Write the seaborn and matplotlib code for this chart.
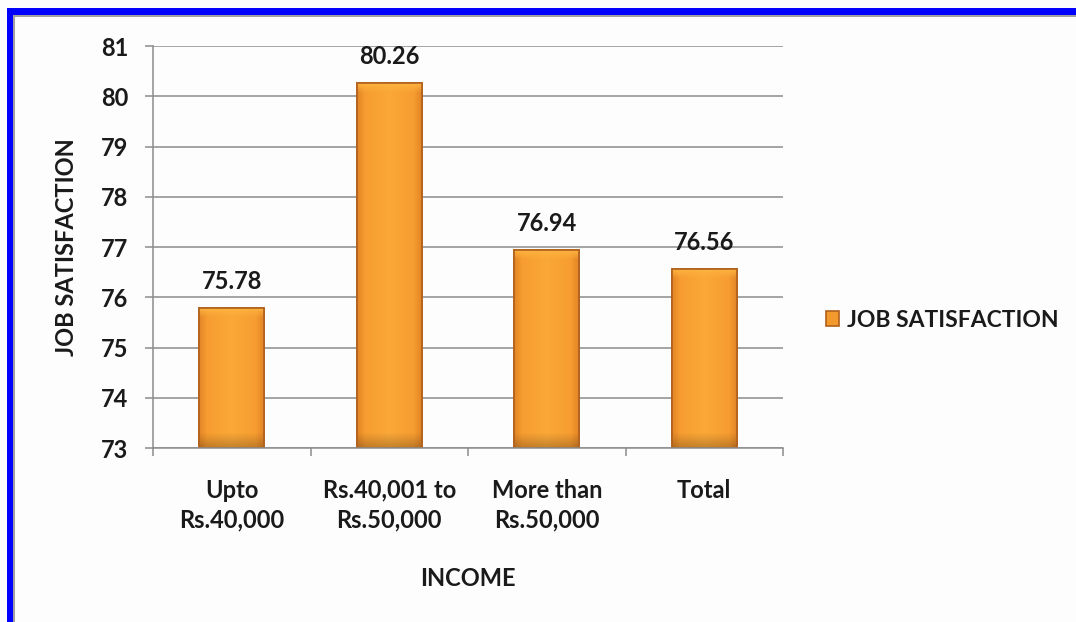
import matplotlib
matplotlib.use("Agg")
import matplotlib.pyplot as plt
from matplotlib.patches import Rectangle
import numpy as np
import seaborn as sns
import pandas as pd

categories = ["Upto\nRs.40,000", "Rs.40,001 to\nRs.50,000", "More than\nRs.50,000", "Total"]
job_satisfaction = [75.78, 80.26, 76.94, 76.56]
y_ticks = [73, 74, 75, 76, 77, 78, 79, 80, 81]

sns.set_theme(style="white")
plt.rcParams["font.family"] = ["Lato", "DejaVu Sans"]
plt.rcParams["font.weight"] = "bold"

FS = 17
TXT = "#1a1a1a"
GRID = "#8c8c8c"
Y_MIN, Y_MAX = y_ticks[0], y_ticks[-1]

df = pd.DataFrame({"INCOME": categories, "JOB SATISFACTION": job_satisfaction})

fig = plt.figure(figsize=(10.76, 6.22), dpi=100, facecolor="#fdfdfd")
ax = fig.add_axes([0.1422, 0.2797, 0.7277 - 0.1422, 0.926 - 0.2797])
ax.set_facecolor("#fdfdfd")

# blue frame along the top and left edges
fig.patches.append(Rectangle((0.0065, 0.0), 0.0056, 0.987, transform=fig.transFigure,
                             facecolor="#0000ff", edgecolor="none", zorder=10))
fig.patches.append(Rectangle((0.0065, 0.976), 0.994, 0.011, transform=fig.transFigure,
                             facecolor="#0000ff", edgecolor="none", zorder=10))
fig.patches.append(Rectangle((0.0121, 0.0), 0.0018, 0.976, transform=fig.transFigure,
                             facecolor="#a0a0a0", edgecolor="none", zorder=10))
fig.patches.append(Rectangle((0.0121, 0.9725), 0.988, 0.0035, transform=fig.transFigure,
                             facecolor="#a0a0a0", edgecolor="none", zorder=10))

sns.barplot(data=df, x="INCOME", y="JOB SATISFACTION", ax=ax, width=0.41,
            color="#f39a2e", edgecolor="#b0601c", linewidth=1.2,
            label="JOB SATISFACTION", zorder=3, saturation=1)

ax.set_xlim(-0.5, len(categories) - 0.5)
ax.set_ylim(Y_MIN, Y_MAX)

# bevelled orange shading over the visible part of each bar
light = np.array([0.99, 0.70, 0.25])
mid = np.array([0.965, 0.60, 0.18])
dark = np.array([0.80, 0.44, 0.12])
for bar in list(ax.patches):
    x0, w = bar.get_x(), bar.get_width()
    top = bar.get_y() + bar.get_height()
    h = top - Y_MIN
    nx, ny = 60, 300
    u = np.linspace(0, 1, nx)
    depth = np.linspace(0, h, ny)  # distance from the bar top, data units
    edge_x = np.clip(np.minimum(u, 1 - u) / 0.12, 0, 1)
    img = np.empty((ny, nx, 3))
    top_band = np.clip(depth / 0.18, 0, 1)[:, None]
    bot_band = np.clip((h - depth) / 0.3, 0, 1)[:, None]
    for c in range(3):
        base = mid[c] + (light[c] - mid[c]) * (1 - np.abs(u - 0.5) * 2) * 0.6
        base = dark[c] + (base - dark[c]) * (0.55 + 0.45 * edge_x)
        layer = np.repeat(base[None, :], ny, axis=0)
        layer = layer * top_band + light[c] * (1 - top_band)
        layer = layer * (0.78 + 0.22 * bot_band)
        img[:, :, c] = layer
    clip = Rectangle((x0, Y_MIN), w, h, transform=ax.transData)
    im = ax.imshow(np.clip(img, 0, 1), extent=(x0, x0 + w, Y_MIN, top), origin="upper",
                   aspect="auto", zorder=3.5, interpolation="bilinear")
    im.set_clip_path(clip)
    ax.add_patch(Rectangle((x0, Y_MIN), w, h, facecolor="none", edgecolor="#b0601c",
                           linewidth=1.2, zorder=3.6))
ax.set_xlim(-0.5, len(categories) - 0.5)
ax.set_ylim(Y_MIN, Y_MAX)
ax.set_aspect("auto")

ax.yaxis.grid(True, color=GRID, linewidth=1.1, zorder=0)
ax.set_axisbelow(True)

for side in ["top", "right"]:
    ax.spines[side].set_visible(False)
for side in ["left", "bottom"]:
    ax.spines[side].set_color(GRID)
    ax.spines[side].set_linewidth(1.1)
    ax.spines[side].set_zorder(4)

# category boundary ticks on the x axis
ax.set_yticks(y_ticks)
ax.set_xticks(range(len(categories)))
ax.set_xticklabels(categories, fontsize=FS, fontweight="bold", color=TXT,
                   linespacing=1.35)
ax.set_xticks([i - 0.5 for i in range(len(categories) + 1)], minor=True)
ax.tick_params(axis="x", which="major", length=0, pad=22, bottom=True)
ax.tick_params(axis="x", which="minor", length=6, width=1.1, color=GRID,
               direction="out", bottom=True)
ax.tick_params(axis="y", length=6, width=1.1, color=GRID, direction="out",
               labelsize=FS, pad=12, left=True)
for lbl in ax.get_yticklabels():
    lbl.set_fontweight("bold")
    lbl.set_color(TXT)

ax.set_xlabel("INCOME", fontsize=FS, fontweight="bold", color=TXT, labelpad=26)
ax.set_ylabel("JOB SATISFACTION", fontsize=FS, fontweight="bold", color=TXT, labelpad=16)

for i, v in enumerate(job_satisfaction):
    ax.annotate(f"{v:.2f}", (i, v), xytext=(0, 11), textcoords="offset points",
                ha="center", va="bottom", fontsize=FS, fontweight="bold", color=TXT)

leg = ax.legend(loc="center left", bbox_to_anchor=(1.035, 0.318), frameon=False,
                fontsize=16.5, handlelength=0.6, handleheight=0.6, handletextpad=0.35)
for t in leg.get_texts():
    t.set_fontweight("bold")
    t.set_color(TXT)

fig.savefig("out.png", dpi=100, facecolor=fig.get_facecolor())
